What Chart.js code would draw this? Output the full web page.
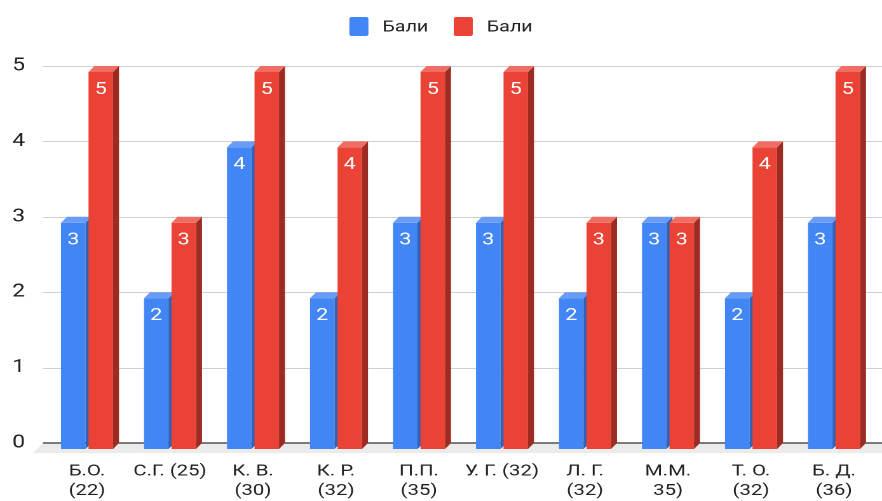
<!DOCTYPE html>
<html>
<head>
<meta charset="utf-8">
<script src="https://cdn.jsdelivr.net/npm/chart.js@4"></script>
<style>
  html, body { margin: 0; padding: 0; background: #fff; overflow: hidden; }
  /* the chart is laid out on a narrower canvas and widened horizontally */
  #wrap { position: absolute; left: 0; top: 0; width: 694px; height: 501px;
          transform: scaleX(1.27089); transform-origin: 0 0; }
</style>
</head>
<body>
<div id="wrap"><canvas id="c" width="694" height="501"></canvas></div>
<script>
const categories = [
  ['Б.О.', '(22)'], ['С.Г. (25)'], ['К. В.', '(30)'], ['К. Р.', '(32)'], ['П.П.', '(35)'],
  ['У. Г. (32)'], ['Л. Г.', '(32)'], ['М.М.', '35)'], ['Т. О.', '(32)'], ['Б. Д.', '(36)']
];
const seriesNames = ['Бали', 'Бали'];
const blueScores = [3, 2, 4, 2, 3, 3, 2, 3, 2, 3];
const redScores  = [5, 3, 5, 4, 5, 5, 3, 3, 4, 5];
const yTicks = [0, 1, 2, 3, 4, 5];

const W = 694;                 // logical canvas width
const SX = 882 / W;            // horizontal widening of the wrapper
const DX = 6 / SX, DY = 6;     // bar depth
const FONT = 'Roboto, "Noto Sans", sans-serif';
const TEXT = '#222222';

const faces = [
  { front: '#4285f4', side: '#3262b8', top: '#689cf6' },
  { front: '#ea4335', side: '#9c2b23', top: '#ef6d62' }
];

const depthBars = {
  id: 'depthBars',
  beforeDatasetsDraw(chart) {
    const ctx = chart.ctx;
    const ys = chart.scales.y;
    const y0 = ys.getPixelForValue(0);
    const gl = 43 / SX, gr = W;
    ctx.save();

    // floor
    ctx.fillStyle = '#ebebeb';
    ctx.beginPath();
    ctx.moveTo(gl, y0);
    ctx.lineTo(gr, y0);
    ctx.lineTo(gr, y0 + 10);
    ctx.lineTo(gl - 10 / SX, y0 + 10);
    ctx.closePath();
    ctx.fill();

    // back-wall grid lines
    ctx.strokeStyle = '#cfcfcf';
    ctx.lineWidth = 1;
    yTicks.forEach(v => {
      if (v === 0) return;
      const py = Math.round(ys.getPixelForValue(v)) + 0.5;
      ctx.beginPath(); ctx.moveTo(gl, py); ctx.lineTo(gr, py); ctx.stroke();
    });
    // baseline
    ctx.strokeStyle = '#333333';
    ctx.lineWidth = 1.3;
    ctx.beginPath(); ctx.moveTo(gl, y0); ctx.lineTo(gr, y0); ctx.stroke();

    // bars with side and top faces
    chart.data.datasets.forEach((ds, i) => {
      const meta = chart.getDatasetMeta(i);
      const f = faces[i];
      meta.data.forEach((bar, j) => {
        const p = bar.getProps(['x', 'y', 'base', 'width'], true);
        const L = p.x - p.width / 2, R = p.x + p.width / 2;
        const ft = p.y + DY, fb = p.base + DY;
        ctx.fillStyle = f.front;
        ctx.fillRect(L, ft, p.width, fb - ft);
        ctx.fillStyle = f.side;
        ctx.beginPath();
        ctx.moveTo(R, ft); ctx.lineTo(R + DX, ft - DY);
        ctx.lineTo(R + DX, p.base); ctx.lineTo(R, fb);
        ctx.closePath(); ctx.fill();
        ctx.fillStyle = f.top;
        ctx.beginPath();
        ctx.moveTo(L, ft); ctx.lineTo(R, ft);
        ctx.lineTo(R + DX, ft - DY); ctx.lineTo(L + DX, ft - DY);
        ctx.closePath(); ctx.fill();

        ctx.fillStyle = '#ffffff';
        ctx.font = '17px ' + FONT;
        ctx.textAlign = 'center';
        ctx.textBaseline = 'middle';
        ctx.fillText(String(ds.data[j]), p.x, ft + 17.5);
      });
    });
    ctx.restore();
    return false;
  }
};

const topLegend = {
  id: 'topLegend',
  afterDraw(chart) {
    const ctx = chart.ctx;
    ctx.save();
    ctx.font = '15.5px ' + FONT;
    const boxW = 15, boxH = 19, gapText = 11, gapItem = 20, cy = 26.5;
    const widths = seriesNames.map(n => ctx.measureText(n).width);
    let total = gapItem * (seriesNames.length - 1);
    widths.forEach(w => { total += boxW + gapText + w; });
    let x = (W - total) / 2;
    seriesNames.forEach((name, i) => {
      ctx.fillStyle = faces[i].front;
      ctx.beginPath();
      ctx.roundRect(x, cy - boxH / 2, boxW, boxH, 2);
      ctx.fill();
      ctx.fillStyle = TEXT;
      ctx.textAlign = 'left';
      ctx.textBaseline = 'middle';
      ctx.fillText(name, x + boxW + gapText, cy + 1);
      x += boxW + gapText + widths[i] + gapItem;
    });
    ctx.restore();
  }
};

new Chart(document.getElementById('c'), {
  type: 'bar',
  data: {
    labels: categories,
    datasets: [
      { label: seriesNames[0], data: blueScores, backgroundColor: faces[0].front },
      { label: seriesNames[1], data: redScores, backgroundColor: faces[1].front }
    ]
  },
  options: {
    responsive: false,
    animation: false,
    devicePixelRatio: 2,
    categoryPercentage: 0.663,
    barPercentage: 0.89,
    layout: { padding: { top: 66, right: W - 875.5 / SX, bottom: 0, left: 0 } },
    plugins: { legend: { display: false }, tooltip: { enabled: false } },
    scales: {
      x: {
        grid: { display: false, drawTicks: false },
        border: { display: false },
        ticks: { color: TEXT, font: { family: FONT, size: 16 }, padding: 19, maxRotation: 0, autoSkip: false },
        afterFit(scale) { scale.height = 58; }
      },
      y: {
        min: 0, max: 5,
        grid: { display: false, drawTicks: false },
        border: { display: false },
        ticks: { stepSize: 1, color: TEXT, font: { family: FONT, size: 18 }, padding: 16 },
        afterFit(scale) { scale.width = 45.5 / SX; }
      }
    }
  },
  plugins: [depthBars, topLegend]
});
</script>
</body>
</html>
